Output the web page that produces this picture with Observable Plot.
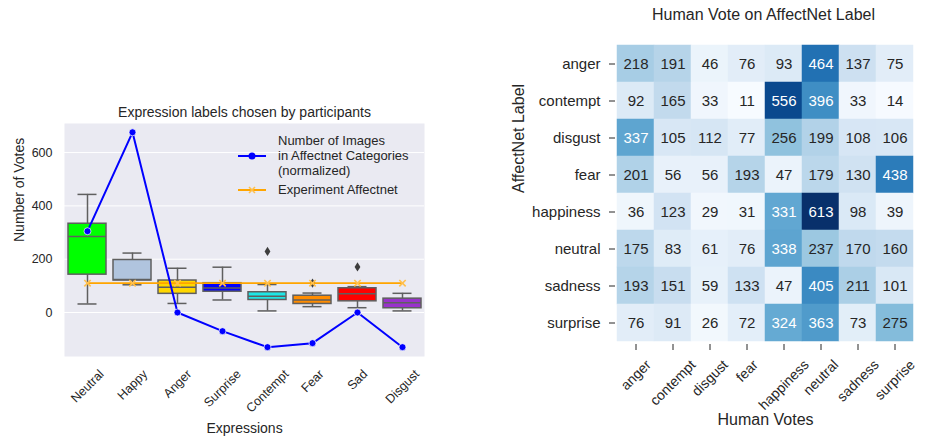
<!DOCTYPE html>
<html>
<head>
<meta charset="utf-8">
<script src="https://cdn.jsdelivr.net/npm/d3@7"></script>
<script src="https://cdn.jsdelivr.net/npm/@observablehq/plot@0.6"></script>
<style>
html,body{margin:0;padding:0;background:#fff;}
#root{position:relative;width:930px;height:439px;overflow:hidden;font-family:"Liberation Sans",Arial,sans-serif;color:#262626;}
#left{position:absolute;left:0;top:0;width:460px;height:439px;}
#right{position:absolute;left:460px;top:0;width:470px;height:439px;}
.lg{position:absolute;font-size:13px;line-height:15px;color:#262626;white-space:nowrap;}
.sw{position:absolute;}
</style>
</head>
<body>
<div id="root">
  <div id="left"></div>
  <div id="right"></div>
  <svg class="sw" style="left:236px;top:150px" width="32" height="12"><line x1="2" y1="6" x2="30" y2="6" stroke="#0000ff" stroke-width="2"/><circle cx="16" cy="6" r="3.5" fill="#0000ff"/></svg>
  <div class="lg" style="left:278px;top:133px">Number of Images<br>in Affectnet Categories<br>(normalized)</div>
  <svg class="sw" style="left:236px;top:184px" width="32" height="12"><line x1="2" y1="6" x2="30" y2="6" stroke="#ffa500" stroke-width="2"/><path d="M13,3L19,9M19,3L13,9" stroke="#ffc04d" stroke-width="1.6"/></svg>
  <div class="lg" style="left:278px;top:182px">Experiment Affectnet</div>
</div>
<script>
// ---------- Left panel data ----------
const expressions = ["Neutral","Happy","Anger","Surprise","Contempt","Fear","Sad","Disgust"];
const whiskerLow  = [32, 104, 34, 47, 6, 22, 18, 6];
const q1          = [142, 120, 70, 78, 47, 32, 42, 16];
const median      = [285, 124, 95, 92, 61, 47, 70, 37];
const q3          = [333, 197, 120, 110, 76, 63, 91, 52];
const whiskerHigh = [443, 223, 166, 170, 105, 73, 97, 72];
const boxColors   = ["#00ff00","#b0c4de","#ffd700","#0000ff","#1ee6e6","#ff8c00","#ff0000","#9932cc"];
const outlierCategories = ["Contempt","Fear","Sad"];
const outlierValues     = [229, 110, 171];
const affectnetImagesNormalized = [305, 676, 0, -70, -130, -115, 0, -130];
const experimentAffectnet       = [110, 110, 110, 110, 110, 110, 110, 110];
const voteTicks = [0, 200, 400, 600];

// ---------- Right panel data ----------
const affectLabels = ["anger","contempt","disgust","fear","happiness","neutral","sadness","surprise"];
const humanVotes   = ["anger","contempt","disgust","fear","happiness","neutral","sadness","surprise"];
const voteMatrix = [
  [218, 191, 46, 76, 93, 464, 137, 75],
  [92, 165, 33, 11, 556, 396, 33, 14],
  [337, 105, 112, 77, 256, 199, 108, 106],
  [201, 56, 56, 193, 47, 179, 130, 438],
  [36, 123, 29, 31, 331, 613, 98, 39],
  [175, 83, 61, 76, 338, 237, 170, 160],
  [193, 151, 59, 133, 47, 405, 211, 101],
  [76, 91, 26, 72, 324, 363, 73, 275]
];

const FONT = '"Liberation Sans", Arial, sans-serif';
const DARK = "#262626";
const GRAY = "#5f5f5f";

const thinDiamond = {
  draw(context) {
    const h = 4.6, w = 2.9;
    context.moveTo(0, -h); context.lineTo(w, 0); context.lineTo(0, h); context.lineTo(-w, 0); context.closePath();
  }
};

const ctx = document.createElement("canvas").getContext("2d");
function textWidth(s, size) { ctx.font = `${size}px "Liberation Sans"`; return ctx.measureText(s).width; }
function rotatedLabels(labels, size, pad) {
  return labels.map(l => Plot.text([l], {
    x: d => d, text: d => d, frameAnchor: "bottom", rotate: -45,
    textAnchor: "middle", lineAnchor: "middle", fontSize: size, fill: DARK,
    dy: pad + (textWidth(l, size) + 0.8 * size) * Math.SQRT1_2 / 2
  }));
}

const boxes = expressions.map((e, i) => ({
  expression: e, low: whiskerLow[i], q1: q1[i], median: median[i], q3: q3[i], high: whiskerHigh[i], color: boxColors[i]
}));
const outliers = outlierCategories.map((e, i) => ({expression: e, value: outlierValues[i]}));
const lines = expressions.map((e, i) => ({expression: e, images: affectnetImagesNormalized[i], experiment: experimentAffectnet[i]}));

const left = Plot.plot({
  width: 460, height: 439,
  marginLeft: 64, marginRight: 36, marginTop: 123, marginBottom: 83,
  style: {fontFamily: FONT, fontSize: "12.5px", color: DARK, background: "transparent", overflow: "visible"},
  x: {type: "band", domain: expressions, paddingInner: 0.16, paddingOuter: 0.08, axis: null},
  y: {domain: [-165, 709], axis: null},
  color: {type: "identity"},
  marks: [
    Plot.frame({fill: "#eaeaf2", stroke: "none"}),
    Plot.gridY(voteTicks, {stroke: "white", strokeOpacity: 1, strokeWidth: 1}),
    Plot.axisY(voteTicks, {tickSize: 0, tickPadding: 12, label: null, fontSize: 12.5}),
    Plot.ruleX(boxes, {x: "expression", y1: "low", y2: "q1", stroke: GRAY, strokeWidth: 1.5}),
    Plot.ruleX(boxes, {x: "expression", y1: "q3", y2: "high", stroke: GRAY, strokeWidth: 1.5}),
    Plot.tickY(boxes, {x: "expression", y: "low", stroke: GRAY, strokeWidth: 1.5, insetLeft: 9.5, insetRight: 9.5}),
    Plot.tickY(boxes, {x: "expression", y: "high", stroke: GRAY, strokeWidth: 1.5, insetLeft: 9.5, insetRight: 9.5}),
    Plot.barY(boxes, {x: "expression", y1: "q1", y2: "q3", fill: "color", stroke: GRAY, strokeWidth: 1.5}),
    Plot.tickY(boxes, {x: "expression", y: "median", stroke: GRAY, strokeWidth: 1.5}),
    Plot.dot(outliers, {x: "expression", y: "value", symbol: thinDiamond, r: 3.5, fill: "#3d3d3d"}),
    Plot.line(lines, {x: "expression", y: "experiment", stroke: "#ffa500", strokeWidth: 1.8}),
    Plot.dot(lines, {x: "expression", y: "experiment", symbol: "times", r: 3, stroke: "#ffc04d", strokeWidth: 1.6}),
    Plot.line(lines, {x: "expression", y: "images", stroke: "#0000ff", strokeWidth: 2}),
    Plot.dot(lines, {x: "expression", y: "images", r: 3.5, fill: "#0000ff", stroke: "white", strokeWidth: 0.7}),
    ...rotatedLabels(expressions, 12.5, 12),
    Plot.text(["Expression labels chosen by participants"], {frameAnchor: "top", text: d => d, lineAnchor: "bottom", dy: -7, fontSize: 14, fill: DARK}),
    Plot.text(["Number of Votes"], {frameAnchor: "left", text: d => d, rotate: -90, lineAnchor: "bottom", dx: -41, dy: 2, fontSize: 14, fill: DARK}),
    Plot.text(["Expressions"], {frameAnchor: "bottom", text: d => d, lineAnchor: "bottom", dy: 76, fontSize: 14, fill: DARK})
  ]
});
document.getElementById("left").append(left);

// ---------- Heatmap ----------
const heatCells = affectLabels.flatMap((label, i) => humanVotes.map((vote, j) => ({label, vote, value: voteMatrix[i][j]})));
const vmin = d3.min(heatCells, d => d.value), vmax = d3.max(heatCells, d => d.value);
function isDark(v) {
  const c = d3.rgb(d3.interpolateBlues((v - vmin) / (vmax - vmin)));
  const lin = x => { x /= 255; return x <= 0.03928 ? x / 12.92 : Math.pow((x + 0.055) / 1.055, 2.4); };
  const lum = 0.2126 * lin(c.r) + 0.7152 * lin(c.g) + 0.0722 * lin(c.b);
  return lum <= 0.408;
}

const right = Plot.plot({
  width: 470, height: 439,
  marginLeft: 157, marginRight: 17, marginTop: 43, marginBottom: 97,
  style: {fontFamily: FONT, fontSize: "15px", color: DARK, background: "transparent", overflow: "visible"},
  x: {type: "band", domain: humanVotes, padding: 0, axis: null},
  y: {type: "band", domain: affectLabels, padding: 0, axis: null},
  color: {type: "linear", scheme: "blues"},
  marks: [
    Plot.cell(heatCells, {x: "vote", y: "label", fill: "value", stroke: "value", strokeWidth: 0.5}),
    Plot.text(heatCells.filter(d => !isDark(d.value)), {x: "vote", y: "label", text: d => String(d.value), fill: DARK, fontSize: 15}),
    Plot.text(heatCells.filter(d => isDark(d.value)), {x: "vote", y: "label", text: d => String(d.value), fill: "white", fontSize: 15}),
    Plot.axisY({tickSize: 6, tickPadding: 9, dx: -2, fontSize: 15, label: null, stroke: DARK}),
    Plot.axisX({tickSize: 6, tickFormat: () => "", label: null, dy: 2, stroke: DARK}),
    ...rotatedLabels(humanVotes, 14, 16),
    Plot.text(["Human Vote on AffectNet Label"], {frameAnchor: "top", text: d => d, lineAnchor: "bottom", dy: -23.5, dx: -2, fontSize: 16, fill: DARK}),
    Plot.text(["AffectNet Label"], {frameAnchor: "left", text: d => d, rotate: -90, lineAnchor: "bottom", dx: -94, fontSize: 16, fill: DARK}),
    Plot.text(["Human Votes"], {frameAnchor: "bottom", text: d => d, lineAnchor: "bottom", dy: 82.5, fontSize: 16, fill: DARK})
  ]
});
document.getElementById("right").append(right);
</script>
</body>
</html>
